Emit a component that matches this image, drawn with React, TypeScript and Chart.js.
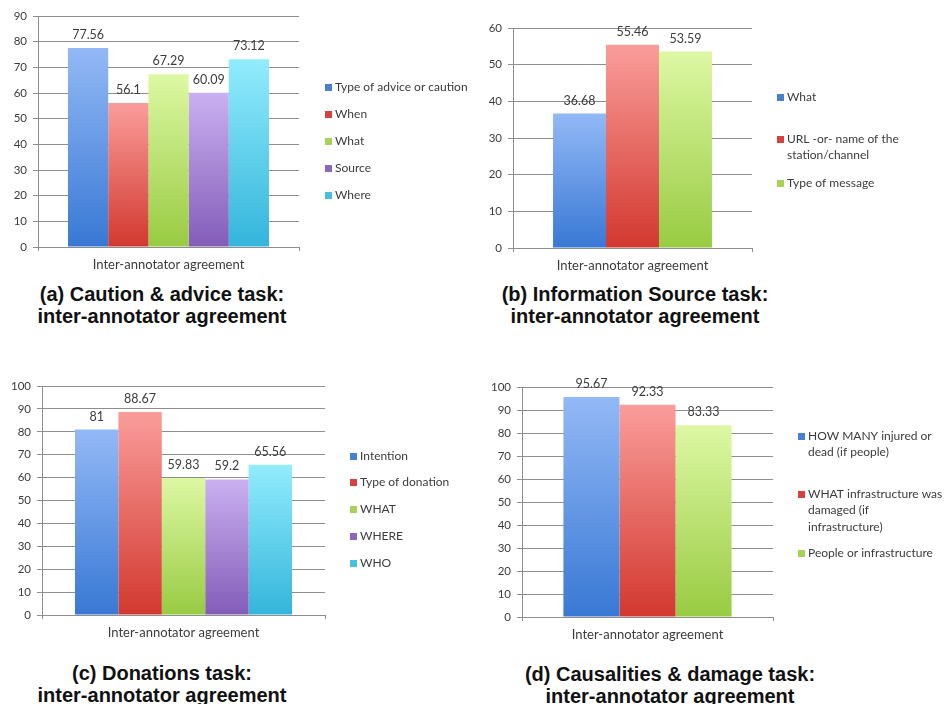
import React, { useEffect, useRef } from "react";
import { Chart, registerables } from "chart.js";

Chart.register(...registerables);

// ---------- data ----------
const categoryLabels = ["Inter-annotator agreement"];

const cautionNames = ["Type of advice or caution", "When", "What", "Source", "Where"];
const cautionValues = [77.56, 56.1, 67.29, 60.09, 73.12];
const cautionTicks = [0, 10, 20, 30, 40, 50, 60, 70, 80, 90];

const sourceNames = ["What", "URL -or- name of the station/channel", "Type of message"];
const sourceValues = [36.68, 55.46, 53.59];
const sourceTicks = [0, 10, 20, 30, 40, 50, 60];

const donationNames = ["Intention", "Type of donation", "WHAT", "WHERE", "WHO"];
const donationValues = [81, 88.67, 59.83, 59.2, 65.56];
const donationTicks = [0, 10, 20, 30, 40, 50, 60, 70, 80, 90, 100];

const casualtyNames = [
  "HOW MANY injured or dead (if people)",
  "WHAT infrastructure was damaged (if infrastructure)",
  "People or infrastructure",
];
const casualtyValues = [95.67, 92.33, 83.33];
const casualtyTicks = [0, 10, 20, 30, 40, 50, 60, 70, 80, 90, 100];

const captionA = ["(a) Caution & advice task:", "inter-annotator agreement"];
const captionB = ["(b) Information Source task:", "inter-annotator agreement"];
const captionC = ["(c) Donations task:", "inter-annotator agreement"];
const captionD = ["(d) Causalities & damage task:", "inter-annotator agreement"];

// ---------- styles ----------
const FONT = "Lato, 'Open Sans', sans-serif";
const GRID = "#8e8e8e";
const TEXT = "#3c3c3c";
const PALETTE = [
  { light: "#93b9f6", dark: "#3878d4", key: "#4a80d2" },
  { light: "#fa9d9a", dark: "#d2382f", key: "#d6433f" },
  { light: "#ddf8a3", dark: "#98cb42", key: "#a6d257" },
  { light: "#cab0f1", dark: "#835cb8", key: "#8c67c0" },
  { light: "#92ecfd", dark: "#33b5db", key: "#45c0e2" },
];

type Panel = {
  names: string[];
  values: number[];
  ticks: number[];
  caption: string[];
  left: number;
  top: number;
  width: number;
  height: number;
  area: { left: number; right: number; top: number; bottom: number };
  barFrac: number;
  legendX: number;
  legendY: number[];
  wrap: number;
  captionTop: number;
  captionCenter: number;
};

const panels: Panel[] = [
  {
    names: cautionNames, values: cautionValues, ticks: cautionTicks, caption: captionA,
    left: 0, top: 0, width: 472, height: 282,
    area: { left: 38, right: 299, top: 16, bottom: 247 },
    barFrac: 0.77, legendX: 325, legendY: [87, 114, 141, 168, 195], wrap: 170,
    captionTop: 283, captionCenter: 162,
  },
  {
    names: sourceNames, values: sourceValues, ticks: sourceTicks, caption: captionB,
    left: 472, top: 0, width: 472, height: 282,
    area: { left: 41, right: 280, top: 28, bottom: 248 },
    barFrac: 0.665, legendX: 305, legendY: [97, 139, 183], wrap: 140,
    captionTop: 283, captionCenter: 635,
  },
  {
    names: donationNames, values: donationValues, ticks: donationTicks, caption: captionC,
    left: 0, top: 340, width: 472, height: 310,
    area: { left: 42, right: 325, top: 46, bottom: 275 },
    barFrac: 0.767, legendX: 350, legendY: [116, 142, 169, 196, 223], wrap: 160,
    captionTop: 662, captionCenter: 162,
  },
  {
    names: casualtyNames, values: casualtyValues, ticks: casualtyTicks, caption: captionD,
    left: 472, top: 340, width: 472, height: 310,
    area: { left: 50, right: 301, top: 47, bottom: 277 },
    barFrac: 0.67, legendX: 326, legendY: [96, 154, 213], wrap: 138,
    captionTop: 663, captionCenter: 670,
  },
];

function wrapText(ctx: CanvasRenderingContext2D, text: string, maxW: number): string[] {
  const words = text.split(" ");
  const lines: string[] = [];
  let cur = "";
  for (const w of words) {
    const test = cur ? cur + " " + w : w;
    if (cur && ctx.measureText(test).width > maxW) {
      lines.push(cur);
      cur = w;
    } else {
      cur = test;
    }
  }
  if (cur) lines.push(cur);
  return lines;
}

function PanelChart({ p }: { p: Panel }) {
  const ref = useRef<HTMLCanvasElement | null>(null);

  useEffect(() => {
    if (!ref.current) return;
    const step = p.ticks[1] - p.ticks[0];

    const valueLabels = {
      id: "valueLabels",
      afterDatasetsDraw(chart: any) {
        const ctx = chart.ctx;
        ctx.save();
        ctx.font = `12.5px ${FONT}`;
        ctx.fillStyle = TEXT;
        ctx.textAlign = "center";
        ctx.textBaseline = "alphabetic";
        chart.data.datasets.forEach((ds: any, i: number) => {
          const meta = chart.getDatasetMeta(i);
          meta.data.forEach((bar: any, j: number) => {
            ctx.fillText(String(ds.data[j]), bar.x, bar.y - 9);
          });
        });
        ctx.restore();
      },
    };

    const sideLegend = {
      id: "sideLegend",
      afterDraw(chart: any) {
        const ctx = chart.ctx;
        ctx.save();
        ctx.font = `12px ${FONT}`;
        ctx.textBaseline = "middle";
        ctx.textAlign = "left";
        chart.data.datasets.forEach((ds: any, i: number) => {
          const y0 = p.legendY[i];
          ctx.fillStyle = PALETTE[i].key;
          ctx.fillRect(p.legendX, y0 - 3, 7, 7);
          ctx.fillStyle = TEXT;
          const lines = wrapText(ctx, ds.label, p.wrap);
          lines.forEach((ln, k) => {
            ctx.fillText(ln, p.legendX + 10, y0 + k * 16.5);
          });
        });
        ctx.restore();
      },
    };

    const chart = new Chart(ref.current, {
      type: "bar",
      data: {
        labels: categoryLabels,
        datasets: p.names.map((name, i) => ({
          label: name,
          data: [p.values[i]],
          borderWidth: 0,
          categoryPercentage: p.barFrac,
          barPercentage: 1,
          backgroundColor: (c: any) => {
            const chartObj = c.chart;
            const y = chartObj.scales?.y;
            if (!chartObj.chartArea || !y || c.raw === undefined) return PALETTE[i].key;
            const top = y.getPixelForValue(c.raw);
            const bottom = y.getPixelForValue(0);
            const g = chartObj.ctx.createLinearGradient(0, top, 0, bottom);
            g.addColorStop(0, PALETTE[i].light);
            g.addColorStop(1, PALETTE[i].dark);
            return g;
          },
        })),
      },
      options: {
        animation: false,
        responsive: false,
        maintainAspectRatio: false,
        events: [],
        layout: {
          padding: { left: 0, top: p.area.top, right: p.width - p.area.right, bottom: 0 },
        },
        plugins: {
          legend: { display: false },
          tooltip: { enabled: false },
          title: { display: false },
        },
        scales: {
          x: {
            grid: { drawOnChartArea: false, drawTicks: true, tickLength: 4, color: GRID },
            border: { display: true, color: GRID },
            ticks: { font: { family: FONT, size: 13 }, color: TEXT, padding: 6 },
            afterFit: (s: any) => {
              s.height = p.height - p.area.bottom;
            },
          },
          y: {
            min: p.ticks[0],
            max: p.ticks[p.ticks.length - 1],
            ticks: { stepSize: step, font: { family: FONT, size: 11.5 }, color: TEXT, padding: 6 },
            grid: { color: GRID, tickLength: 5 },
            border: { display: true, color: GRID },
            afterFit: (s: any) => {
              s.width = p.area.left;
            },
          },
        },
      },
      plugins: [valueLabels, sideLegend],
    });
    return () => chart.destroy();
  }, [p]);

  return (
    <>
      <canvas
        ref={ref}
        width={p.width}
        height={p.height}
        style={{ position: "absolute", left: p.left, top: p.top, width: p.width, height: p.height }}
      />
      <div
        style={{
          position: "absolute",
          left: p.captionCenter - 200,
          top: p.captionTop,
          width: 400,
          textAlign: "center",
          fontFamily: "'Liberation Sans', Arial, sans-serif",
          fontWeight: "bold",
          fontSize: 20,
          lineHeight: "22px",
          color: "#111",
        }}
      >
        {p.caption.map((line, i) => (
          <div key={i}>{line}</div>
        ))}
      </div>
    </>
  );
}

export default function App() {
  return (
    <div
      style={{
        position: "fixed",
        left: 0,
        top: 0,
        width: 944,
        height: 704,
        overflow: "hidden",
        background: "#ffffff",
      }}
    >
      {panels.map((p, i) => (
        <PanelChart key={i} p={p} />
      ))}
    </div>
  );
}
